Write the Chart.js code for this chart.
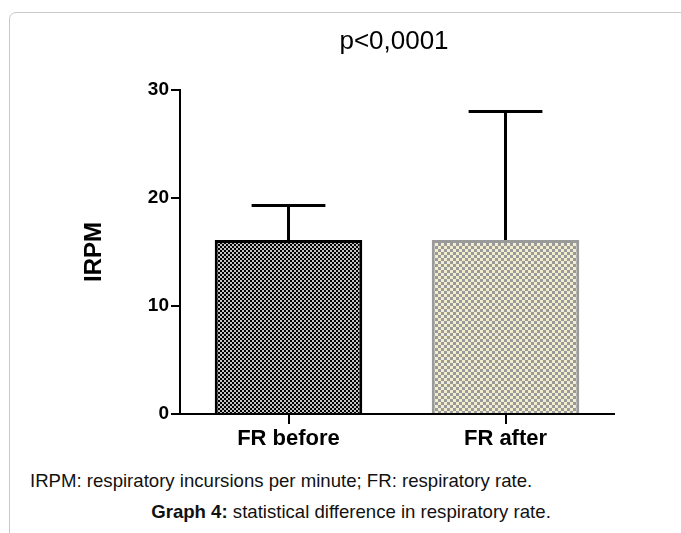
<!DOCTYPE html>
<html>
<head>
<meta charset="utf-8">
<script src="https://cdn.jsdelivr.net/npm/chart.js@4.4.0/dist/chart.umd.min.js"></script>
<style>
    body { margin: 0; background: #fff; font-family: "Liberation Sans", Arial, sans-serif; }
    #card { position: absolute; left: 9px; top: 12px; width: 720px; height: 600px; border: 1px solid #c8c8c8; border-radius: 7px; }
    #wrap { position: absolute; left: 0; top: 0; width: 681px; height: 470px; }
    .note { position: absolute; font-size: 18.6px; color: #111; white-space: nowrap; }
</style>
</head>
<body>
<div id="card"></div>
<div id="wrap"><canvas id="barChart"></canvas></div>
<div class="note" style="left:30px; top:470px;">IRPM: respiratory incursions per minute; FR: respiratory rate.</div>
<div class="note" style="left:0; width:702px; text-align:center; top:501px;"><b>Graph 4:</b> statistical difference in respiratory rate.</div>
<script>
const categories = ["FR before", "FR after"];
const meanValues = [16.1, 16.1];
const errorTop = [19.3, 28.0];
const yTicks = [0, 10, 20, 30];
const chartTitle = "p<0,0001";
const yLabel = "IRPM";

function checker(size, a, b) {
    const c = document.createElement("canvas");
    c.width = size * 2;
    c.height = size * 2;
    const g = c.getContext("2d");
    g.fillStyle = a;
    g.fillRect(0, 0, size * 2, size * 2);
    g.fillStyle = b;
    g.fillRect(0, 0, size, size);
    g.fillRect(size, size, size, size);
    return g.createPattern(c, "repeat");
}

const errorBars = {
    id: "errorBars",
    afterDatasetsDraw(chart) {
        const ctx = chart.ctx;
        const meta = chart.getDatasetMeta(0);
        const y = chart.scales.y;
        ctx.save();
        ctx.strokeStyle = "#000";
        ctx.lineWidth = 3;
        meta.data.forEach((bar, i) => {
            const top = y.getPixelForValue(errorTop[i]);
            const half = bar.width / 4;
            ctx.beginPath();
            ctx.moveTo(bar.x, bar.y);
            ctx.lineTo(bar.x, top);
            ctx.moveTo(bar.x - half, top);
            ctx.lineTo(bar.x + half, top);
            ctx.stroke();
        });
        ctx.restore();
    },
    afterDraw(chart) {
        const ctx = chart.ctx;
        const a = chart.chartArea;
        ctx.save();
        ctx.fillStyle = "#000";
        ctx.font = "26px 'Liberation Sans', Arial, sans-serif";
        ctx.textAlign = "center";
        ctx.textBaseline = "middle";
        ctx.fillText(chartTitle, (a.left + a.right) / 2 - 3, 42);
        ctx.restore();
    }
};

new Chart(document.getElementById("barChart"), {
    type: "bar",
    data: {
        labels: categories,
        datasets: [{
            data: meanValues,
            backgroundColor: [checker(2, "#000", "#c4c4c4"), checker(3, "#9a9a9a", "#f2edcc")],
            borderColor: ["#000", "#9a9a9a"],
            borderWidth: 3,
            borderSkipped: "bottom",
            barPercentage: 0.68,
            categoryPercentage: 1
        }]
    },
    plugins: [errorBars],
    options: {
        responsive: true,
        maintainAspectRatio: false,
        animation: false,
        layout: { padding: { left: 76, right: 67, top: 90, bottom: 0 } },
        plugins: { legend: { display: false }, tooltip: { enabled: false }, title: { display: false } },
        scales: {
            x: {
                grid: { drawOnChartArea: false, offset: false, color: "#000", lineWidth: 2, tickLength: 10 },
                border: { color: "#000", width: 2 },
                ticks: { color: "#000", padding: 2, font: { family: "'Liberation Sans', Arial", size: 22, weight: "bold" } },
                afterFit(scale) { scale.height = 56; }
            },
            y: {
                min: 0,
                max: 30,
                afterBuildTicks(scale) { scale.ticks = yTicks.map(v => ({ value: v })); },
                grid: { drawOnChartArea: false, color: "#000", lineWidth: 2, tickLength: 9 },
                border: { color: "#000", width: 2 },
                ticks: { color: "#000", padding: 2, font: { family: "'Liberation Sans', Arial", size: 19, weight: "bold" } },
                title: { display: true, text: yLabel, color: "#000", font: { family: "'Liberation Sans', Arial", size: 24, weight: "bold" } },
                afterFit(scale) { scale.width = 104; }
            }
        }
    }
});
</script>
</body>
</html>
